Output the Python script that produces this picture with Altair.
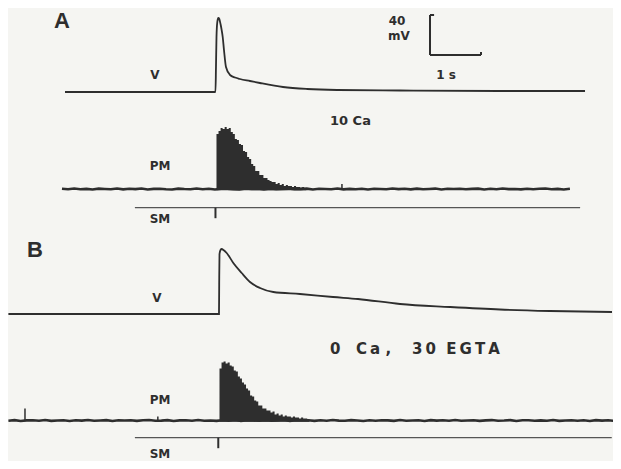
import altair as alt
import pandas as pd

# ---------------- data ----------------
# Time in s relative to stimulus, membrane potential in mV relative to rest
vA_t = [-2.98, -1.31, -0.03, -0.02, -0.01, 0.006, 0.025, 0.045, 0.069, 0.088,
        0.112, 0.137, 0.176, 0.255, 0.353, 0.451, 0.647, 0.843, 1.294, 1.765,
        2.353, 3.588, 5.549, 7.216]
vA_mv = [0, 0, 0, 25, 55, 70, 74, 73, 68, 63, 55, 42, 25, 17, 14.5, 13, 11, 9,
         5, 3, 2, 1.5, 1, 1]

vB_t = [-4.09, 0.039, 0.043, 0.049, 0.069, 0.092, 0.127, 0.190, 0.320, 0.484,
        0.647, 0.843, 1.104, 1.627, 2.275, 2.765, 3.588, 4.569, 5.549, 6.529, 7.745]
vB_mv = [0, 0, 30, 60, 64, 65, 64, 61, 51, 41, 32, 26, 22, 20, 17, 15, 10, 7,
         4.5, 3, 2]

# Photomultiplier burst envelope (arb. units), sampled every 0.04 s from onset
pmA_onset = -0.01
pmA_env = [55, 58, 61, 60, 62, 60, 61, 57, 55, 50, 49, 45, 44, 38, 37, 32, 30,
           25, 23, 18, 18, 14, 14, 11, 11, 9, 8, 7, 7, 5, 6, 4, 5, 3, 4, 3, 3,
           2, 3, 2, 2, 1.5, 2, 1, 1]
pmB_onset = 0.049
pmB_env = [52, 58, 59, 57, 58, 55, 54, 50, 49, 44, 42, 38, 36, 32, 30, 25, 24,
           20, 19, 15, 15, 12, 12, 10, 10, 8, 9, 6, 7, 5, 6, 4, 5, 4, 4, 3, 4,
           3, 3, 2, 3, 2, 2, 1.5, 1]

# Photomultiplier background noise (arb. units), sampled every 0.12 s
pmA_noise_start = -3.04
pmA_noise = [0.4, -0.5, 0.8, -0.3, 0.2, -0.9, 0.6, 0.1, -0.4, 0.7, -0.6, 0.3,
             -0.2, 0.9, -0.7, 0.2, 0.5, -0.4, -0.8, 0.6, 0.0, -0.3, 0.7, -0.5,
             0.4, -0.9, 0.3, 0.6, -0.2, -0.6, 0.8, -0.1, 0.4, -0.7, 0.5, -0.3,
             0.2, 0.7, -0.5, -0.2, 0.6, -0.8, 0.3, 0.1, -0.4, 0.9, -0.6, 0.2,
             -0.3, 0.5, -0.7, 0.4, 0.0, -0.5, 0.8, -0.2, 0.3, -0.6, 0.6, -0.4,
             0.1, 0.7, -0.8, 0.3, -0.1, 0.5, -0.5, 0.2, 0.6, -0.7, 0.4, -0.3,
             0.8, -0.2, 0.1, -0.6, 0.5, -0.4, 0.3, 0.7, -0.5, 0.2, -0.8, 0.4]
pmB_noise_start = -4.09
pmB_noise = [-0.3, 0.6, -0.7, 0.2, 0.5, -0.4, 0.8, -0.6, 0.1, 0.4, -0.8, 0.3,
             -0.2, 0.7, -0.5, 0.0, 0.6, -0.9, 0.4, -0.1, 0.5, -0.6, 0.3, 0.8,
             -0.4, -0.2, 0.6, -0.7, 0.2, 0.4, -0.5, 0.9, -0.3, 0.1, -0.6, 0.5,
             -0.2, 0.7, -0.8, 0.3, 0.0, -0.4, 0.6, -0.5, 0.2, 0.8, -0.7, 0.3,
             -0.1, 0.5, -0.6, 0.4, -0.3, 0.7, -0.2, -0.5, 0.6, 0.1, -0.8, 0.4,
             -0.3, 0.5, 0.2, -0.6, 0.7, -0.4, 0.1, 0.3, -0.7, 0.6, -0.2, 0.4,
             -0.5, 0.8, -0.3, 0.0, 0.5, -0.6, 0.2, 0.7, -0.4, -0.1, 0.6, -0.8,
             0.3, 0.4, -0.5, 0.2, -0.3, 0.7, -0.6, 0.1, 0.5, -0.4, 0.3, -0.7,
             0.6, -0.2, 0.4, -0.5]
pmA_spike_t = [2.45]
pmA_spike_h = [5]
pmB_spike_t = [-3.765, -1.16]
pmB_spike_h = [12, 4]

# Stimulus markers (s)
smA_start, smA_end, smA_stim = -1.61, 7.12, -0.03
smB_start, smB_end, smB_stim = -1.61, 7.74, 0.025

# Scale bar: 40 mV, 1 s
bar_mv = 40
bar_s = 1.0

# Labels (NBSP / thin spaces keep the wide lettering of the original)
NB, TH = "\u00a0", "\u2009"
panel_labels = ["A", "B"]
trace_labels = ["V", "V", "PM", "SM", "PM", "SM"]
scale_labels = ["40", "mV", "1 s"]
conditions = ["10" + NB + "Ca",
              "0" + NB * 3 + "C" + TH + "a" + NB + "," + NB * 4 + "3" + TH + "0"
              + NB * 2 + "E" + TH + "G" + TH + "T" + TH + "A"]

# ---------------- layout (page pixels) ----------------
PX_PER_S = 51.0
T_ZERO_PX = 217.0
T_MIN = (8 - T_ZERO_PX) / PX_PER_S
T_MAX = (613 - T_ZERO_PX) / PX_PER_S
NOISE_PX = 0.6

base_vA, base_pmA, base_smA = 92.0, 189.0, 207.7
base_vB, base_pmB, base_smB = 314.0, 420.5, 437.7
sm_tick = 10.5
bar_t0, bar_y0 = (430 - T_ZERO_PX) / PX_PER_S, 55.0

INK = "#2e2e2e"
BG = "#f5f5f2"


def px2t(px):
    return (px - T_ZERO_PX) / PX_PER_S


xs = alt.Scale(domain=[T_MIN, T_MAX])
ys = alt.Scale(domain=[8, 461], reverse=True)
X = lambda f="t": alt.X(f"{f}:Q", scale=xs, axis=None)
Y = lambda f="y": alt.Y(f"{f}:Q", scale=ys, axis=None)

# V traces
v_df = pd.concat([
    pd.DataFrame({"t": vA_t, "y": [base_vA - v for v in vA_mv], "s": "A"}),
    pd.DataFrame({"t": vB_t, "y": [base_vB - v for v in vB_mv], "s": "B"}),
])
v_layer = alt.Chart(v_df).mark_line(color=INK, strokeWidth=1.8, interpolate="monotone").encode(
    x=X(), y=Y(), detail="s:N")


# PM baselines with noise
def noise_df(start, vals, base, s):
    return pd.DataFrame({"t": [start + 0.12 * i for i in range(len(vals))],
                         "y": [base - NOISE_PX * v for v in vals], "s": s})


pm_df = pd.concat([noise_df(pmA_noise_start, pmA_noise, base_pmA, "A"),
                   noise_df(pmB_noise_start, pmB_noise, base_pmB, "B")])
pm_layer = alt.Chart(pm_df).mark_line(color=INK, strokeWidth=2.6).encode(
    x=X(), y=Y(), detail="s:N")


# PM bursts
def burst_df(onset, env, base, s):
    ts = [onset + 0.04 * i for i in range(len(env))]
    return pd.DataFrame({"t": ts, "y": [base - e for e in env],
                         "y2": [base + 1.2] * len(env), "s": s})


burst = pd.concat([burst_df(pmA_onset, pmA_env, base_pmA, "A"),
                   burst_df(pmB_onset, pmB_env, base_pmB, "B")])
burst_layer = alt.Chart(burst).mark_area(color=INK, interpolate="step-after").encode(
    x=X(), y=Y(), y2="y2:Q", detail="s:N")

# small PM spikes
sp_df = pd.concat([
    pd.DataFrame({"t": pmA_spike_t, "y": [base_pmA - h for h in pmA_spike_h], "y2": base_pmA}),
    pd.DataFrame({"t": pmB_spike_t, "y": [base_pmB - h for h in pmB_spike_h], "y2": base_pmB}),
])
sp_layer = alt.Chart(sp_df).mark_rule(color=INK, strokeWidth=1.5).encode(
    x=X(), y=Y(), y2="y2:Q")

# SM lines and stimulus ticks
sm_df = pd.DataFrame({"t": [smA_start, smB_start], "t2": [smA_end, smB_end],
                      "y": [base_smA, base_smB]})
sm_layer = alt.Chart(sm_df).mark_rule(color="#555555", strokeWidth=1.2).encode(
    x=X(), x2="t2:Q", y=Y())
stim_df = pd.DataFrame({"t": [smA_stim, smB_stim], "y": [base_smA, base_smB],
                        "y2": [base_smA + sm_tick, base_smB + sm_tick]})
stim_layer = alt.Chart(stim_df).mark_rule(color=INK, strokeWidth=2).encode(
    x=X(), y=Y(), y2="y2:Q")

# Scale bar
bar_df = pd.DataFrame({
    "t": [bar_t0, bar_t0, bar_t0 + bar_s, bar_t0],
    "t2": [bar_t0, bar_t0 + bar_s, bar_t0 + bar_s, bar_t0 + 0.08],
    "y": [bar_y0, bar_y0, bar_y0, bar_y0 - bar_mv],
    "y2": [bar_y0 - bar_mv, bar_y0, bar_y0 - 3, bar_y0 - bar_mv],
})
bar_layer = alt.Chart(bar_df).mark_rule(color=INK, strokeWidth=2).encode(
    x=X(), x2="t2:Q", y=Y(), y2="y2:Q")

# Text labels
big = pd.DataFrame({"t": [px2t(62), px2t(35)], "y": [20.5, 250], "txt": panel_labels})
big_layer = alt.Chart(big).mark_text(font="Liberation Sans", fontWeight="bold", fontSize=22,
                                     color=INK, baseline="middle", align="center").encode(
    x=X(), y=Y(), text="txt:N")

lab = pd.DataFrame({
    "t": [px2t(155), px2t(157), px2t(160), px2t(160), px2t(160), px2t(160),
          px2t(397), px2t(399), px2t(446)],
    "y": [75, 298, 166, 219, 400, 454, 21, 36, 75],
    "txt": trace_labels + scale_labels,
})
lab_layer = alt.Chart(lab).mark_text(font="DejaVu Sans", fontWeight="bold", fontSize=12,
                                     color=INK, baseline="middle", align="center").encode(
    x=X(), y=Y(), text="txt:N")

cond = pd.DataFrame({"t": [px2t(330), px2t(330)], "y": [121, 349], "txt": conditions,
                     "fs": [13, 15]})
cond_layer = alt.Chart(cond).mark_text(font="DejaVu Sans", fontWeight="bold",
                                       color=INK, baseline="middle", align="left").encode(
    x=X(), y=Y(), text="txt:N", size=alt.Size("fs:Q", scale=None, legend=None))

chart = alt.layer(
    v_layer, pm_layer, burst_layer, sp_layer, sm_layer, stim_layer, bar_layer,
    big_layer, lab_layer, cond_layer
).properties(
    width=605, height=453, padding=0,
    autosize=alt.AutoSizeParams(type="none"),
    background=BG,
).configure_view(strokeWidth=0)

chart.save("out.html", embed_options={"renderer": "svg", "actions": False})
